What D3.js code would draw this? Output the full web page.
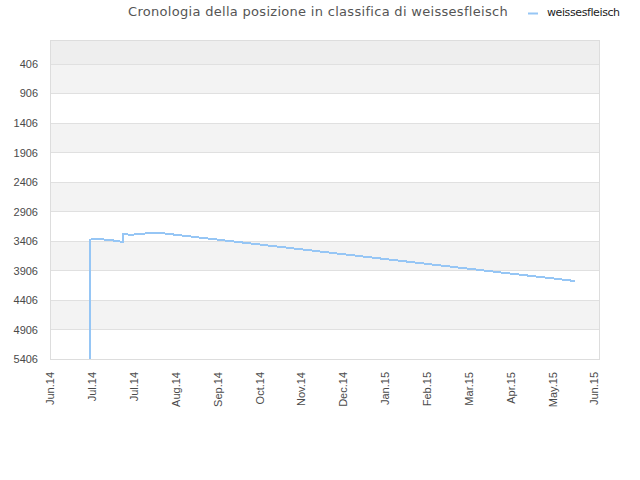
<!DOCTYPE html>
<html>
<head>
<meta charset="utf-8">
<title>Cronologia</title>
<script src="https://d3js.org/d3.v7.min.js"></script>
<style>
  body { margin: 0; background: #fff; }
  svg { font-family: "DejaVu Sans", sans-serif; }
  .tick text { fill: #4a4a4a; font-size: 11px; }
</style>
</head>
<body>
<div id="chart"></div>
<script>
// series: date, rank position
var dates = ["2014-06-30", "2014-06-30", "2014-07-01", "2014-07-08", "2014-07-15", "2014-07-22", "2014-07-22",
  "2014-07-27", "2014-08-03", "2014-08-10", "2014-08-18", "2014-09-01", "2014-09-15", "2014-10-01",
  "2014-10-15", "2014-11-01", "2014-11-15", "2014-12-01", "2014-12-15", "2015-01-01", "2015-01-15",
  "2015-02-01", "2015-02-15", "2015-03-01", "2015-03-15", "2015-04-01", "2015-04-15", "2015-05-01", "2015-05-20"];
var positions = [5406, 3389, 3367, 3378, 3396, 3423, 3288,
  3300, 3288, 3266, 3277, 3318, 3359, 3406,
  3447, 3497, 3538, 3585, 3626, 3676, 3717,
  3767, 3808, 3849, 3890, 3940, 3981, 4027, 4084];

var yTicks = [406, 906, 1406, 1906, 2406, 2906, 3406, 3906, 4406, 4906, 5406];
var xTickDates = ["2014-06-03", "2014-07-01", "2014-07-29", "2014-08-26", "2014-09-23", "2014-10-21", "2014-11-18",
  "2014-12-16", "2015-01-13", "2015-02-10", "2015-03-10", "2015-04-07", "2015-05-05", "2015-06-02"];
var xTickLabels = ["Jun.14", "Jul.14", "Jul.14", "Aug.14", "Sep.14", "Oct.14", "Nov.14",
  "Dec.14", "Jan.15", "Feb.15", "Mar.15", "Apr.15", "May.15", "Jun.15"];
var title = "Cronologia della posizione in classifica di weissesfleisch";
var seriesName = "weissesfleisch";

var W = 640, H = 480;
var mLeft = 50, mRight = 600, mTop = 40, mBottom = 359;
var parse = d3.timeParse("%Y-%m-%d");

var svg = d3.select("#chart").append("svg").attr("width", W).attr("height", H);

var x = d3.scaleTime()
  .domain([parse("2014-06-03"), parse("2015-06-06")])
  .range([mLeft, mRight]);
var y = d3.scaleLinear().domain([0, 5406]).range([mTop, mBottom]);

// bands
var edges = [0].concat(yTicks);
svg.append("g").selectAll("rect").data(d3.range(edges.length - 1)).join("rect")
  .attr("x", mLeft).attr("width", mRight - mLeft)
  .attr("y", function(i) { return y(edges[i]); })
  .attr("height", function(i) { return y(edges[i + 1]) - y(edges[i]); })
  .attr("fill", function(i) { return i == 0 ? "#eeeeee" : (i % 2 == 1 ? "#f3f3f3" : "#ffffff"); });

// grid lines
svg.append("g").selectAll("line").data(yTicks).join("line")
  .attr("x1", mLeft).attr("x2", mRight)
  .attr("y1", function(d) { return Math.round(y(d)) + 0.5; })
  .attr("y2", function(d) { return Math.round(y(d)) + 0.5; })
  .attr("stroke", "#e0e0e0");

// frame
svg.append("rect").attr("x", mLeft + 0.5).attr("y", mTop + 0.5)
  .attr("width", mRight - mLeft - 1).attr("height", mBottom - mTop)
  .attr("fill", "none").attr("stroke", "#dddddd");

// y axis
var yAxis = svg.append("g").attr("transform", "translate(" + (mLeft - 9) + ",0)")
  .call(d3.axisLeft(y).tickValues(yTicks).tickSize(0).tickFormat(d3.format("d")));
yAxis.select(".domain").remove();

// x axis
var xAxis = svg.append("g").attr("transform", "translate(0," + (mBottom + 13) + ")")
  .call(d3.axisBottom(x).tickValues(xTickDates.map(parse)).tickSize(0)
    .tickFormat(function(d, i) { return xTickLabels[i]; }));
xAxis.select(".domain").remove();
xAxis.selectAll("text")
  .attr("transform", "rotate(-90)")
  .attr("text-anchor", "end")
  .attr("x", 0).attr("y", 0).attr("dx", 0).attr("dy", "0.35em");

// line
var data = dates.map(function(d, i) { return { date: parse(d), v: positions[i] }; });
var line = d3.line().x(function(d) { return x(d.date); }).y(function(d) { return y(d.v); });
svg.append("path").datum(data)
  .attr("d", line)
  .attr("fill", "none")
  .attr("stroke", "#96c6f5")
  .attr("stroke-width", 2)
  .attr("shape-rendering", "crispEdges");

// title
svg.append("text").attr("x", 318).attr("y", 16)
  .attr("text-anchor", "middle")
  .attr("font-size", 13).attr("fill", "#555")
  .attr("letter-spacing", 0.3)
  .text(title);

// legend
svg.append("line").attr("x1", 528).attr("x2", 538).attr("y1", 13.5).attr("y2", 13.5)
  .attr("stroke", "#96c6f5").attr("stroke-width", 2);
svg.append("text").attr("x", 547).attr("y", 16)
  .attr("font-size", 11).attr("fill", "#222")
  .attr("letter-spacing", -0.4)
  .text(seriesName);
</script>
</body>
</html>
